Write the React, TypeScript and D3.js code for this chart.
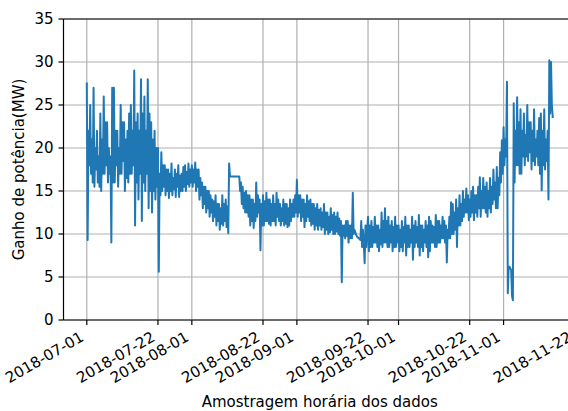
import React from "react";
import * as d3 from "d3";

// leituras a cada 6h (00h, 06h, 12h, 18h)
const julho = [
  27.5, 9.3, 22, 18, 25, 17, 21, 16, 27, 15.5, 20, 17.5, 22, 16, 19, 15.5, 24, 15, 21, 17,
  26, 17, 23, 18, 23, 16, 20, 17, 19, 9, 27, 16, 27, 16, 22, 18, 22, 15.5, 20, 17,
  25, 17, 23, 18.5, 23, 15, 21, 16.5, 22, 16, 24, 17, 25, 17, 22, 18, 29, 11, 23, 16,
  24, 14, 22, 17, 28, 11.5, 24, 16, 26, 15, 22, 17, 28, 13, 24, 15, 23, 12.5, 21, 15,
  22, 14, 20, 15.5, 20, 5.6, 17, 14.5, 19.5, 15, 18, 15.5, 18, 14.5, 17.5, 15, 17.5, 14.2, 17, 15,
  18.2, 14.5, 16.5, 15.2, 17.5, 14.3, 17, 15.5, 18, 14.3, 16.8, 15, 17, 15, 17.8, 15.5, 18, 15, 17.2, 15.8,
  18.2, 15.5, 17.5, 16,
];
const agosto = [
  18, 15.5, 17.5, 16, 18.3, 15, 17.5, 15.5, 17.5, 14, 16.5, 14.5, 16, 13, 15.5, 13.5, 15.5, 12.5, 15, 13,
  15, 12, 14.5, 12.5, 14, 11.5, 13.8, 12, 14.5, 11, 13.5, 11.5, 13.5, 10.5, 13, 11.2, 14.5, 11, 13.5, 11.5,
  14, 10.8, 13.2, 10.1, 18.2, 16.7, 16.7, 16.7, 16.7, 16.7, 16.7, 16.7, 16.7, 16.7, 16.7, 16.7, 16.7, 15, 16, 13.5,
  15.5, 13, 14.8, 12.5, 15, 12.5, 14.5, 12, 14.5, 11, 14, 11.5, 14, 10.7, 13.5, 11.5, 16, 12, 14.5, 12.5,
  14, 8.1, 13.5, 11, 14.5, 11, 13.8, 11.5, 14.8, 11.5, 14, 11.2, 14, 11, 13.5, 11.5, 14.5, 11.5, 13.5, 11,
  14.8, 12, 14, 11.5, 13.5, 11, 13, 11.5, 14, 11, 13.5, 11.2, 13.5, 10.8, 13, 11, 14, 11.5, 13.5, 12,
  14, 12, 14.5, 12.5,
];
const setembro = [
  16.3, 12, 14.5, 12.5, 14.5, 11.5, 14, 12, 14, 10.8, 13.5, 11.5, 14.5, 12, 13.8, 11.5, 14, 11, 13.5, 11.2,
  13.5, 10.5, 13, 11, 13.5, 10.5, 12.8, 11, 13, 10.5, 12.5, 10.8, 13.5, 10, 12.5, 10.5, 12.5, 10, 12, 10.2,
  13, 10.5, 12.2, 10, 12.5, 10, 12, 10.3, 12.5, 10, 11.8, 9.8, 11.5, 4.4, 11, 9.8, 11, 9.5, 11.5, 9.8,
  11.5, 9, 11, 9.5, 11, 9.5, 14.8, 10, 10.5, 10.2, 9.9, 9.7, 9.6, 9.5, 9.4, 9.3, 11.5, 8.5, 10.5, 8.8,
  6.6, 11, 8.5, 10.5, 12, 8, 11, 8.5, 11.5, 8.5, 10.8, 9, 12, 9, 11, 8.5, 11, 8, 10.5, 8.8,
  12.5, 8.5, 11.5, 9, 13, 9, 11.5, 8.5, 12, 8.5, 11, 9, 11.5, 8, 10.8, 8.5, 12, 8.5, 11, 9,
];
const outubro = [
  11, 8, 10.5, 8.5, 11.5, 8, 10.8, 9, 12, 7.5, 11, 8.5, 11, 8.5, 10.5, 9, 12, 7, 11, 8.5,
  11.5, 9, 10.8, 8.5, 12.2, 7.5, 11, 8.5, 11, 8, 10.5, 9, 11.5, 8.5, 11, 7.3, 12, 8, 11.5, 9,
  11, 9, 10.8, 8.5, 12.2, 8.5, 11.5, 9, 11.5, 9, 11, 9.5, 12, 9.5, 11.5, 9, 11, 6.7, 10.5, 9.5,
  12, 9.5, 13.7, 10, 13.5, 10, 12.5, 10.5, 14, 8.5, 13, 11, 14.5, 11, 13.5, 11.5, 15, 12, 14, 12.5,
  15.3, 12.5, 14.5, 11.6, 14, 12, 15, 12.5, 15.5, 11.6, 14.5, 12.5, 14.5, 12, 15.5, 13, 16.6, 12, 15, 13,
  16.5, 13, 15.5, 12.5, 16, 12, 15, 13, 16.5, 12.5, 15.5, 13.5, 17.5, 14, 16, 13, 17.8, 13, 16.5, 14.5,
  19.5, 16, 20.9, 17,
];
const novembro = [
  22.4, 18, 21, 19, 27.7, 3.1, 6.2, 6.2, 6, 5.8, 2.8, 2.3, 25.2, 16, 22, 18, 25.9, 18, 23, 17,
  24.5, 17, 22, 19, 24, 18, 21.5, 19, 25, 18.5, 23, 19.5, 23, 17.5, 22, 18.5, 24.5, 18, 21, 19,
  22, 18, 23.5, 17, 24, 15.1, 22, 18, 24.5, 17.5, 21, 18.5, 22, 14, 30.2, 24, 30, 25, 23.6,
];

const yTicks = [0, 5, 10, 15, 20, 25, 30, 35];
const xTicks = [
  "2018-07-01", "2018-07-22", "2018-08-01", "2018-08-22", "2018-09-01",
  "2018-09-22", "2018-10-01", "2018-10-22", "2018-11-01", "2018-11-22",
];

const W = 568;
const H = 411;
const left = 63.5;
const right = 576;
const top = 19;
const bottom = 320;
const font = "DejaVu Sans, sans-serif";

export default function App() {
  const start = Date.UTC(2018, 6, 1);
  const values = [...julho, ...agosto, ...setembro, ...outubro, ...novembro];
  const data = values.map((v, i) => ({ t: new Date(start + i * 6 * 3600 * 1000), v }));

  const x = d3
    .scaleUtc()
    .domain([new Date(Date.UTC(2018, 5, 24, 3)), new Date(Date.UTC(2018, 10, 22, 9))])
    .range([left, right]);
  const y = d3.scaleLinear().domain([0, 35]).range([bottom, top]);

  const line = d3
    .line<{ t: Date; v: number }>()
    .x(d => x(d.t))
    .y(d => y(d.v));

  const tickDates = xTicks.map(s => new Date(s + "T00:00:00Z"));

  return (
    <svg width={W} height={H} style={{ position: "absolute", left: 0, top: 0, background: "#fff" }}>
      <defs>
        <clipPath id="plot">
          <rect x={left} y={top} width={right - left} height={bottom - top} />
        </clipPath>
      </defs>
      {/* grade */}
      {yTicks.map(t => (
        <line key={"gy" + t} x1={left} x2={right} y1={y(t)} y2={y(t)} stroke="#b0b0b0" strokeWidth={1.2} />
      ))}
      {tickDates.map((d, i) => (
        <line key={"gx" + i} x1={x(d)} x2={x(d)} y1={top} y2={bottom} stroke="#b0b0b0" strokeWidth={1.2} />
      ))}
      <path
        d={line(data) || ""}
        fill="none"
        stroke="#1f77b4"
        strokeWidth={2}
        strokeLinejoin="round"
        strokeLinecap="square"
        clipPath="url(#plot)"
      />
      {/* eixos */}
      <line x1={left} x2={left} y1={top} y2={bottom} stroke="#000" strokeWidth={1.2} />
      <line x1={left} x2={right} y1={bottom} y2={bottom} stroke="#000" strokeWidth={1.2} />
      <line x1={left} x2={right} y1={top} y2={top} stroke="#000" strokeWidth={1.2} />
      {yTicks.map(t => (
        <g key={"ty" + t}>
          <line x1={left - 5} x2={left} y1={y(t)} y2={y(t)} stroke="#000" strokeWidth={1.2} />
          <text x={left - 10} y={y(t)} dy="0.36em" textAnchor="end" fontFamily={font} fontSize={15} fill="#000">
            {t}
          </text>
        </g>
      ))}
      {tickDates.map((d, i) => (
        <g key={"tx" + i}>
          <line x1={x(d)} x2={x(d)} y1={bottom} y2={bottom + 5} stroke="#000" strokeWidth={1.2} />
          <text
            transform={`translate(${x(d) - 2},${340}) rotate(-30)`}
            textAnchor="end"
            fontFamily={font}
            fontSize={15}
            fill="#000"
          >
            {xTicks[i]}
          </text>
        </g>
      ))}
      <text x={(left + right) / 2} y={407} textAnchor="middle" fontFamily={font} fontSize={15} fill="#000">
        Amostragem horária dos dados
      </text>
      <text
        transform={`translate(24,${(top + bottom) / 2}) rotate(-90)`}
        textAnchor="middle"
        fontFamily={font}
        fontSize={15}
        fill="#000"
      >
        Ganho de potência(MW)
      </text>
    </svg>
  );
}
